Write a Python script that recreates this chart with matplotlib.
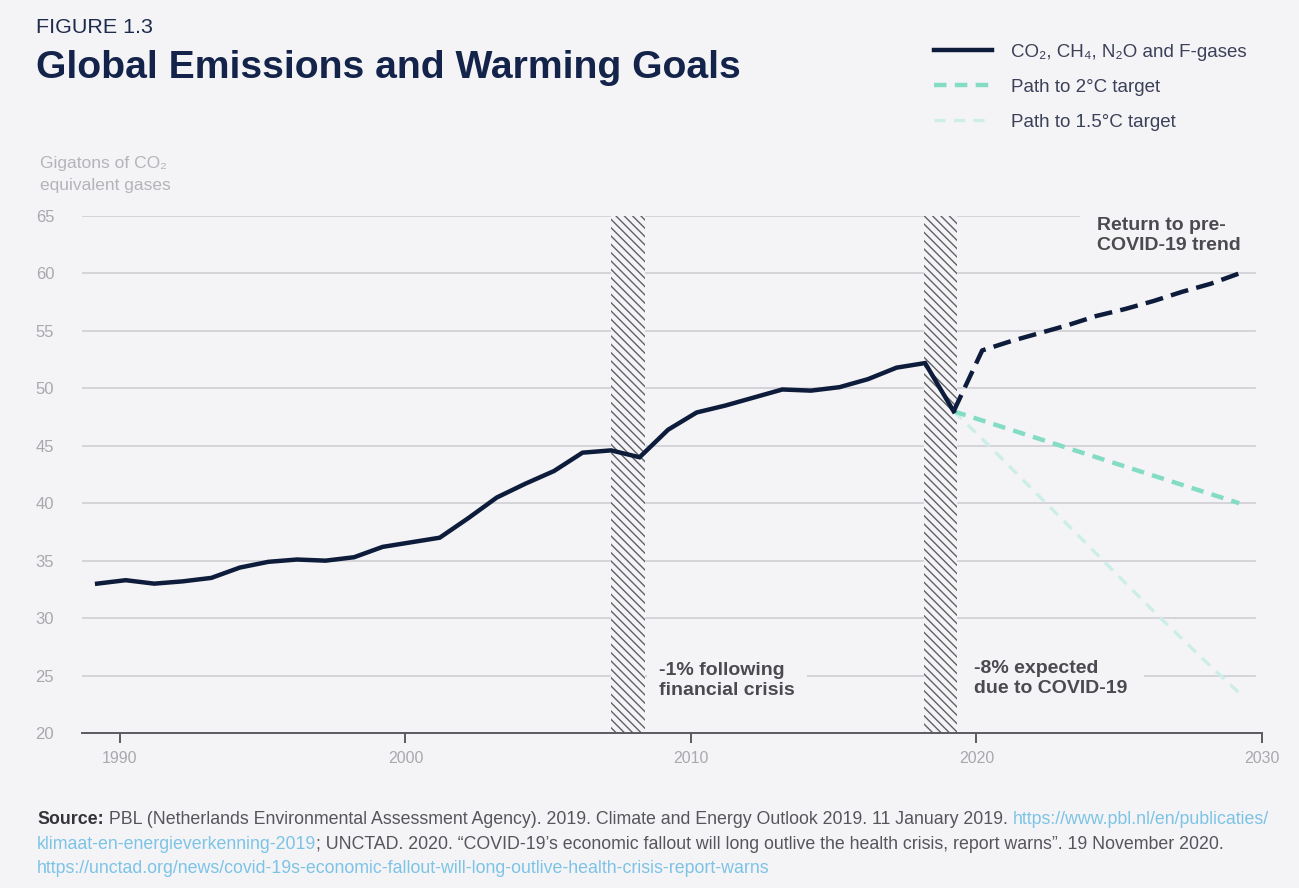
import matplotlib
matplotlib.use("Agg")
import matplotlib.pyplot as plt
from matplotlib.patches import Rectangle
from matplotlib import font_manager as fm

plt.rcParams['font.family'] = ['Liberation Sans', 'DejaVu Sans']
plt.rcParams['lines.scale_dashes'] = False
plt.rcParams['hatch.linewidth'] = 1.0

# ---------------- data ----------------
hist_years = list(range(1990, 2021))
hist_values = [33.0, 33.3, 33.0, 33.2, 33.5, 34.4, 34.9, 35.1, 35.0, 35.3,
               36.2, 36.6, 37.0, 38.7, 40.5, 41.7, 42.8, 44.4, 44.6, 44.0,
               46.4, 47.9, 48.5, 49.2, 49.9, 49.8, 50.1, 50.8, 51.8, 52.2,
               48.0]
trend_years = list(range(2020, 2031))
trend_values = [48.0, 53.3, 54.1, 54.8, 55.5, 56.3, 56.9, 57.6, 58.4, 59.1, 60.0]
path2_years = [2020, 2030]
path2_values = [48.0, 40.0]
path15_years = [2020, 2021, 2022, 2023, 2024, 2025, 2026, 2027, 2028, 2029, 2030]
path15_values = [48.0, 45.6, 43.1, 40.6, 38.1, 35.6, 33.1, 30.6, 28.2, 25.8, 23.5]
shaded_periods = [(2008.0, 2009.2), (2018.95, 2020.1)]   # data years
x_ticks = [1990, 2000, 2010, 2020, 2030]
y_ticks = [20, 25, 30, 35, 40, 45, 50, 55, 60, 65]
legend_labels = ["CO₂, CH₄, N₂O and F-gases", "Path to 2°C target", "Path to 1.5°C target"]

X_SHIFT = -0.8  # data points sit slightly left of the year ticks in the original

BG = '#f4f4f6'
NAVY = '#0e1c3c'
MINT = '#84dcc4'
PALE = '#cdeee6'
GRID = '#d2d2d6'
TICKC = '#a8a8ae'

W, H = 1299, 888
fig = plt.figure(figsize=(W / 100, H / 100), dpi=100, facecolor=BG)
ax = fig.add_axes([82 / W, 1 - 733 / H, (1262 - 82) / W, (733 - 216) / H])
ax.set_facecolor(BG)
renderer = fig.canvas.get_renderer()

def sx(vals):
    return [v + X_SHIFT for v in vals]

def fit(t, target):
    w = t.get_window_extent(renderer).width
    t.set_fontsize(t.get_fontsize() * target / w)
    return t

ax.set_xlim(1988.67, 2030)
ax.set_ylim(20, 65)

for s in ['top', 'right', 'left']:
    ax.spines[s].set_visible(False)
ax.spines['bottom'].set_color('#5a5a60')
ax.spines['bottom'].set_linewidth(1.4)

ax.set_yticks(y_ticks)
ax.set_yticklabels([str(v) for v in y_ticks])
ax.set_xticks(x_ticks)
ax.set_xticklabels([str(v) for v in x_ticks])
ax.tick_params(axis='y', length=0, pad=20, labelsize=12, labelcolor=TICKC)
ax.tick_params(axis='x', direction='out', length=7, width=1.4, color='#5a5a60',
               pad=6, labelsize=11.5, labelcolor=TICKC)

# gridlines (except the baseline)
for v in y_ticks[1:]:
    ax.plot([1988.67, 2029.75], [v, v], color=GRID, lw=1.3, zorder=1)

# hatched periods
for (a, b) in shaded_periods:
    ax.add_patch(Rectangle((a + X_SHIFT, 20), b - a, 45, facecolor=BG,
                           edgecolor='#606066', hatch='\\\\\\\\', linewidth=0, zorder=2))

l15, = ax.plot(sx(path15_years), path15_values, color=PALE, lw=2.4,
               dashes=(8, 6), zorder=3)
l2, = ax.plot(sx(path2_years), path2_values, color=MINT, lw=3.2,
              dashes=(9, 6), zorder=4)
ax.plot(sx(trend_years), trend_values, color=NAVY, lw=3.2, dashes=(13, 6), zorder=5)
lh, = ax.plot(sx(hist_years), hist_values, color=NAVY, lw=3.2, zorder=6,
              solid_joinstyle='miter')

# annotations
txt_kw = dict(fontsize=14, fontweight='bold', color='#4a4a50', linespacing=1.2,
              ha='left', va='baseline', zorder=7)
fig.text(659 / W, 1 - 695 / H, "-1% following\nfinancial crisis",
         bbox=dict(facecolor=BG, edgecolor='none', pad=9), **txt_kw)
fig.text(974 / W, 1 - 693 / H, "-8% expected\ndue to COVID-19",
         bbox=dict(facecolor=BG, edgecolor='none', pad=12), **txt_kw)
fig.text(1097 / W, 1 - 250 / H, "Return to pre-\nCOVID-19 trend",
         bbox=dict(facecolor=BG, edgecolor='none', pad=12), **txt_kw)

# titles
fit(fig.text(36 / W, 1 - 33 / H, "FIGURE 1.3", fontsize=15, color='#1d2b4c',
             va='baseline'), 117)
fit(fig.text(36 / W, 1 - 78 / H, "Global Emissions and Warming Goals", fontsize=28,
             fontweight='bold', color='#13234a', va='baseline'), 706)
fit(fig.text(40 / W, 1 - 168 / H, "Gigatons of CO₂", fontsize=12, color='#b4b4ba',
             va='baseline'), 130)
fig.texts[-1].set_fontsize(min(fig.texts[-1].get_fontsize(), 12.5))
fig.text(40 / W, 1 - 190 / H, "equivalent gases", fontsize=fig.texts[-1].get_fontsize(),
         color='#b4b4ba', va='baseline')

# legend
leg = ax.legend(handles=[lh, l2, l15], labels=legend_labels, loc='upper left',
                bbox_to_anchor=(917 / W, 1 - 27 / H), bbox_transform=fig.transFigure,
                frameon=False, fontsize=13.5, handlelength=3.1, handletextpad=1.0,
                labelspacing=0.95)
for t in leg.get_texts():
    t.set_color('#3c4058')

# source block (multi-colour lines)
GRAY = '#55555c'
LINK = '#7cc3e6'
src_family = ['Liberation Sans', 'DejaVu Sans']
try:
    fm.findfont(fm.FontProperties(family='Liberation Sans Narrow'), fallback_to_default=False)
    src_family = ['Liberation Sans Narrow', 'Liberation Sans', 'DejaVu Sans']
except Exception:
    pass

line1 = [("Source:", dict(color='#333338', fontweight='bold')),
         (" PBL (Netherlands Environmental Assessment Agency). 2019. Climate and Energy Outlook 2019. 11 January 2019. ",
          dict(color=GRAY)),
         ("https://www.pbl.nl/en/publicaties/", dict(color=LINK))]
line2 = [("klimaat-en-energieverkenning-2019", dict(color=LINK)),
         ("; UNCTAD. 2020. “COVID-19’s economic fallout will long outlive the health crisis, report warns”. 19 November 2020.",
          dict(color=GRAY))]
line3 = [("https://unctad.org/news/covid-19s-economic-fallout-will-long-outlive-health-crisis-report-warns",
          dict(color=LINK))]

def width_px(s, fs, **kw):
    t1 = fig.text(0, 0, s + '|', fontsize=fs, family=src_family, **kw)
    t2 = fig.text(0, 0, '|', fontsize=fs, family=src_family, **kw)
    w = t1.get_window_extent(renderer).width - t2.get_window_extent(renderer).width
    t1.remove(); t2.remove()
    return w

base_fs = 10.0
total = sum(width_px(s, base_fs, **kw) for s, kw in line1)
SRC_FS = base_fs * (1233 / total)

def draw_line(pieces, y):
    x = 37
    for s, kw in pieces:
        fig.text(x / W, 1 - y / H, s, fontsize=SRC_FS, va='baseline',
                 family=src_family, **kw)
        x += width_px(s, SRC_FS, **kw)

draw_line(line1, 824)
draw_line(line2, 849)
draw_line(line3, 873)

fig.savefig("out.png", dpi=100, facecolor=BG)
